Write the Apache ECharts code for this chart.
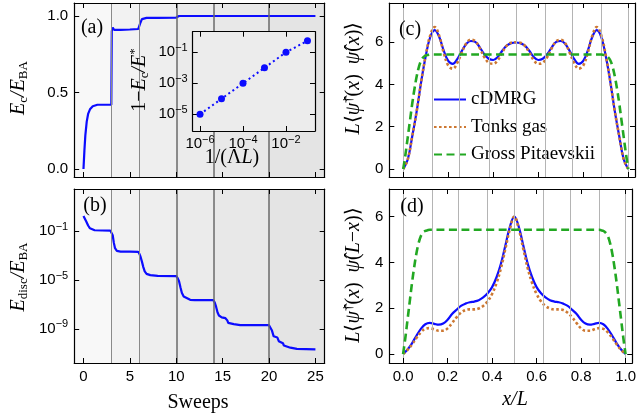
<!DOCTYPE html>
<html>
<head>
<meta charset="utf-8">
<script src="https://cdn.jsdelivr.net/npm/echarts@6/dist/echarts.min.js"></script>
<style>
html, body { margin: 0; padding: 0; background: #fff; }
#chart { width: 639px; height: 419px; }
</style>
</head>
<body>
<div id="chart"></div>
<script>
// (a) converged energy vs sweeps
var sweepsA = [0, 0.1, 0.2, 0.35, 0.5, 0.7, 1.0, 1.5, 2, 3, 3.05, 3.15, 3.3, 3.5, 4, 5, 5.9, 6.1, 6.3, 6.5, 6.8, 8, 10, 10.3, 12, 15, 20, 25];
var ecA = [0, 0.12, 0.22, 0.31, 0.36, 0.39, 0.41, 0.42, 0.42, 0.42, 0.9, 0.925, 0.91, 0.908, 0.91, 0.912, 0.915, 0.95, 0.98, 0.99, 0.988, 0.988, 0.99, 1.0, 1.0, 1.0, 1.0, 1.0];

// (b) discarded energy, log10 of E_disc/E_BA
var sweepsB = [0, 0.15, 0.3, 0.5, 0.7, 0.9, 1.2, 2, 2.9, 3.05, 3.15, 3.27, 3.4, 3.6, 4, 5, 5.9,
  6.05, 6.15, 6.3, 6.45, 6.6, 6.8, 7.2, 8, 10, 10.15, 10.3, 10.45, 10.6, 10.8, 11, 11.5, 12, 14,
  14.15, 14.3, 14.45, 14.6, 14.9, 15.3, 15.5, 15.6, 15.75, 16.2, 16.9, 18, 20,
  20.15, 20.3, 20.5, 20.6, 20.9, 21.05, 21.15, 21.5, 21.6, 21.8, 22.3, 23, 25];
var log10Edisc = [0.22, 0.1, -0.22, -0.55, -0.78, -0.88, -0.94, -0.96, -0.97, -1.1, -1.35, -1.95, -2.4, -2.62, -2.68, -2.69, -2.7,
  -2.9, -3.1, -3.5, -3.95, -4.3, -4.5, -4.6, -4.66, -4.68, -4.85, -5.1, -5.6, -6.05, -6.35, -6.5, -6.62, -6.64, -6.65,
  -6.85, -7.2, -7.65, -7.9, -8.05, -8.12, -8.3, -8.5, -8.58, -8.6, -8.68, -8.68, -8.69,
  -8.85, -9.1, -9.6, -9.66, -9.7, -10.0, -10.12, -10.17, -10.35, -10.45, -10.53, -10.63, -10.66];

// sweeps where the bond dimension is increased
var sweepMarks = [3, 6, 10, 14, 20];
var bandEdges = [-1, 3, 6, 10, 14, 20, 26];

// inset: 1 - Ec/E* vs 1/(Lambda L)
var invLambdaL = [1e-6, 1e-5, 1e-4, 1e-3, 1e-2, 1e-1];
var oneMinusE = [1e-5, 1e-4, 1e-3, 1e-2, 1e-1, 0.56];

// (c),(d) profiles on x/L
var xL = [0, 0.02, 0.04, 0.06, 0.08, 0.1, 0.12, 0.14, 0.16, 0.18, 0.2, 0.22, 0.24, 0.26, 0.28, 0.3, 0.32, 0.34, 0.36, 0.38, 0.4, 0.42, 0.44, 0.46, 0.48, 0.5,
  0.52, 0.54, 0.56, 0.58, 0.6, 0.62, 0.64, 0.66, 0.68, 0.7, 0.72, 0.74, 0.76, 0.78, 0.8, 0.82, 0.84, 0.86, 0.88, 0.9, 0.92, 0.94, 0.96, 0.98, 1];
var dmrgC = [0, 0.45, 1.55, 2.75, 4.15, 5.35, 6.25, 6.58, 6.25, 5.6, 5.12, 4.98, 5.2, 5.58, 5.92, 6.06, 6.02, 5.76, 5.44, 5.22, 5.16, 5.3, 5.6, 5.84, 5.96, 5.99,
  5.96, 5.84, 5.6, 5.3, 5.16, 5.22, 5.44, 5.76, 6.02, 6.06, 5.92, 5.58, 5.2, 4.98, 5.12, 5.6, 6.25, 6.58, 6.25, 5.35, 4.15, 2.75, 1.55, 0.45, 0];
var tonksC = [0, 0.45, 1.55, 2.75, 4.15, 5.38, 6.33, 6.72, 6.3, 5.5, 4.9, 4.75, 5.02, 5.5, 5.95, 6.12, 6.05, 5.72, 5.3, 5.03, 4.98, 5.15, 5.52, 5.84, 5.98, 6.0,
  5.98, 5.84, 5.52, 5.15, 4.98, 5.03, 5.3, 5.72, 6.05, 6.12, 5.95, 5.5, 5.02, 4.75, 4.9, 5.5, 6.3, 6.72, 6.33, 5.38, 4.15, 2.75, 1.55, 0.45, 0];
var dmrgD = [0, 0.2, 0.47, 0.8, 1.1, 1.3, 1.36, 1.32, 1.28, 1.33, 1.5, 1.75, 1.93, 2.1, 2.2, 2.26, 2.29, 2.35, 2.47, 2.65, 2.92, 3.35, 3.95, 4.75, 5.55, 6.0,
  5.55, 4.75, 3.95, 3.35, 2.92, 2.65, 2.47, 2.35, 2.29, 2.26, 2.2, 2.1, 1.93, 1.75, 1.5, 1.33, 1.28, 1.32, 1.36, 1.3, 1.1, 0.8, 0.47, 0.2, 0];
var tonksD = [0, 0.18, 0.42, 0.7, 0.95, 1.1, 1.13, 1.08, 1.02, 1.02, 1.12, 1.35, 1.6, 1.8, 1.92, 1.95, 1.95, 1.99, 2.1, 2.3, 2.62, 3.1, 3.75, 4.6, 5.45, 6.0,
  5.45, 4.6, 3.75, 3.1, 2.62, 2.3, 2.1, 1.99, 1.95, 1.95, 1.92, 1.8, 1.6, 1.35, 1.12, 1.02, 1.02, 1.08, 1.13, 1.1, 0.95, 0.7, 0.42, 0.18, 0];
var gpX = [0, 0.01, 0.02, 0.03, 0.04, 0.05, 0.06, 0.07, 0.08, 0.09, 0.1, 0.11, 0.12, 0.5, 0.88, 0.89, 0.9, 0.91, 0.92, 0.93, 0.94, 0.95, 0.96, 0.97, 0.98, 0.99, 1];
var gpY = [0, 0.7, 1.5, 2.3, 3.1, 3.8, 4.4, 4.85, 5.15, 5.3, 5.37, 5.4, 5.42, 5.42, 5.42, 5.4, 5.37, 5.3, 5.15, 4.85, 4.4, 3.8, 3.1, 2.3, 1.5, 0.7, 0];
var eighths = [0, 0.125, 0.25, 0.375, 0.5, 0.625, 0.75, 0.875, 1];

var BLUE = '#0c0cff', ORANGE = '#cd7832', GREEN = '#22a822';
var SANS = 'Liberation Sans', SERIF = 'Liberation Serif';
var bandColors = ['#f8f8f8', '#f2f2f2', '#eeeeee', '#ebebeb', '#e8e8e8', '#e4e4e4'];

function pairs(xs, ys) {
	return xs.map(function (x, i) { return [x, ys[i]]; });
}

var powRich = {
	b: { fontFamily: SANS, fontSize: 15, color: '#000' },
	s: { fontFamily: SANS, fontSize: 11, color: '#000', padding: [0, 0, 9, 0] }
};
function fmtPow(v) { return '{b|10}{s|' + (v < 0 ? '\u2212' : '') + Math.abs(v) + '}'; }
function fmt1(v) { return v.toFixed(1); }
function fmt0(v) { return String(Math.round(v)); }

// one axis with inward ticks; labels only when fmt is given
function axis(gi, pos, min, max, ticks, fmt, z, margin) {
	return {
		type: 'value', gridIndex: gi, position: pos, min: min, max: max, z: z,
		axisLine: { show: true, onZero: false, lineStyle: { color: '#000', width: 1.2 } },
		splitLine: { show: false },
		axisTick: { show: true, inside: true, length: 5, customValues: ticks, lineStyle: { color: '#000', width: 1 } },
		axisLabel: {
			show: !!fmt, customValues: ticks, formatter: fmt, margin: margin || 6,
			color: '#000', fontFamily: SANS, fontSize: 15, rich: powRich
		}
	};
}

var sweepTicks = [0, 5, 10, 15, 20, 25];
var xTicks = [0, 0.2, 0.4, 0.6, 0.8, 1.0];
var xAxes = [
	axis(0, 'bottom', -1, 26, sweepTicks, null, 10), axis(0, 'top', -1, 26, sweepTicks, null, 10),
	axis(1, 'bottom', -1, 26, sweepTicks, fmt0, 10), axis(1, 'top', -1, 26, sweepTicks, null, 10),
	axis(2, 'bottom', -0.062, 1.03, xTicks, null, 10), axis(2, 'top', -0.062, 1.03, xTicks, null, 10),
	axis(3, 'bottom', -0.062, 1.03, xTicks, fmt1, 10), axis(3, 'top', -0.062, 1.03, xTicks, null, 10),
	axis(4, 'bottom', -6.34, -0.65, [-6, -4, -2], fmtPow, 12, 3), axis(4, 'top', -6.34, -0.65, [-6, -4, -2], null, 12)
];
var yAxes = [
	axis(0, 'left', -0.052, 1.085, [0, 0.5, 1], fmt1, 10), axis(0, 'right', -0.052, 1.085, [0, 0.5, 1], null, 10),
	axis(1, 'left', -11.78, 2.43, [-1, -5, -9], fmtPow, 10), axis(1, 'right', -11.78, 2.43, [-1, -5, -9], null, 10),
	axis(2, 'left', -0.38, 7.86, [0, 2, 4, 6], fmt0, 10), axis(2, 'right', -0.38, 7.86, [0, 2, 4, 6], null, 10),
	axis(3, 'left', -0.39, 7.2, [0, 2, 4, 6], fmt0, 10), axis(3, 'right', -0.39, 7.2, [0, 2, 4, 6], null, 10),
	axis(4, 'left', -6.08, 0.33, [-5, -3, -1], fmtPow, 12, 5), axis(4, 'right', -6.08, 0.33, [-5, -3, -1], null, 12)
];

// shaded sweep bands and separators for panels (a),(b)
function sweepBackground(gi) {
	var areas = [];
	for (var i = 0; i < bandColors.length; i++) {
		areas.push([{ xAxis: bandEdges[i], itemStyle: { color: bandColors[i] } }, { xAxis: bandEdges[i + 1] }]);
	}
	return {
		type: 'line', xAxisIndex: 2 * gi, yAxisIndex: 2 * gi, data: [], z: 1, silent: true,
		markArea: { silent: true, data: areas },
		markLine: {
			silent: true, symbol: 'none', label: { show: false },
			data: sweepMarks.map(function (v) {
				return { xAxis: v, lineStyle: { type: 'solid', color: v < 10 ? '#8a8a8a' : '#6a6a6a', width: v < 10 ? 1 : 1.5 } };
			})
		}
	};
}
function eighthLines(gi) {
	return {
		type: 'line', xAxisIndex: 2 * gi, yAxisIndex: 2 * gi, data: [], z: 1, silent: true,
		markLine: {
			silent: true, symbol: 'none', label: { show: false },
			lineStyle: { type: 'solid', color: '#b4b4b4', width: 1 },
			data: eighths.map(function (v) { return { xAxis: v }; })
		}
	};
}
function profile(gi, name, xs, ys, color, dash, z) {
	return {
		type: 'line', name: name, xAxisIndex: 2 * gi, yAxisIndex: 2 * gi, z: z,
		data: pairs(xs, ys), showSymbol: false, symbol: 'none', smooth: 0.4,
		lineStyle: { color: color, width: dash === 'solid' ? 2.2 : 2.6, type: dash, cap: 'butt' },
		itemStyle: { color: color }
	};
}

var series = [
	sweepBackground(0),
	sweepBackground(1),
	eighthLines(2),
	eighthLines(3),
	{
		type: 'line', xAxisIndex: 0, yAxisIndex: 0, z: 3, data: pairs(sweepsA, ecA), showSymbol: false, symbol: 'none',
		lineStyle: { color: BLUE, width: 2.2 }
	},
	{
		type: 'line', xAxisIndex: 2, yAxisIndex: 2, z: 3, data: pairs(sweepsB, log10Edisc), showSymbol: false, symbol: 'none',
		lineStyle: { color: BLUE, width: 2.2 }
	},
	profile(2, 'cDMRG', xL, dmrgC, BLUE, 'solid', 3),
	profile(2, 'Tonks gas', xL, tonksC, ORANGE, [2.6, 2.4], 4),
	profile(2, 'Gross Pitaevskii', gpX, gpY, GREEN, [8, 4.5], 5),
	profile(3, 'cDMRG', xL, dmrgD, BLUE, 'solid', 3),
	profile(3, 'Tonks gas', xL, tonksD, ORANGE, [2.6, 2.4], 4),
	profile(3, 'Gross Pitaevskii', gpX, gpY, GREEN, [8, 4.5], 5),
	{
		type: 'line', xAxisIndex: 8, yAxisIndex: 8, z: 13,
		data: invLambdaL.map(function (x, i) { return [Math.log10(x), Math.log10(oneMinusE[i])]; }),
		symbol: 'circle', symbolSize: 7, showSymbol: true,
		itemStyle: { color: BLUE }, lineStyle: { color: BLUE, width: 2, type: [2, 3] }
	}
];

var tRich = {
	i: { fontFamily: SERIF, fontStyle: 'italic', fontSize: 20, color: '#000' },
	r: { fontFamily: SERIF, fontSize: 20, color: '#000' },
	sub: { fontFamily: SERIF, fontSize: 13, color: '#000', padding: [10, 0, 0, 0] },
	sup: { fontFamily: SERIF, fontSize: 13, color: '#000', padding: [0, 0, 10, 0] }
};
function label(x, y, text, rot) {
	return {
		type: 'text', x: x, y: y, rotation: rot ? Math.PI / 2 : 0, z: 20,
		style: { text: text, rich: tRich, align: 'center', verticalAlign: 'middle', font: '20px ' + SERIF, fill: '#000' }
	};
}
var psi = '\u03c8\u0302';

var option = {
	animation: false,
	backgroundColor: '#fff',
	grid: [
		{ left: 74.2, top: 3, width: 250.5, height: 174 },
		{ left: 74.2, top: 189, width: 250.5, height: 174 },
		{ left: 389.3, top: 3, width: 245.7, height: 174 },
		{ left: 389.3, top: 189, width: 245.7, height: 174 },
		{ left: 192.7, top: 31.7, width: 122.3, height: 99.3, show: true, backgroundColor: '#ececec', borderWidth: 0, z: 11 }
	],
	xAxis: xAxes,
	yAxis: yAxes,
	legend: {
		left: 428, top: 85, orient: 'vertical', itemWidth: 32, itemHeight: 14, itemGap: 8.5,
		data: ['cDMRG', 'Tonks gas', 'Gross Pitaevskii'],
		itemStyle: { opacity: 0 },
		textStyle: { fontFamily: SERIF, fontSize: 19, color: '#000' }
	},
	graphic: [
		label(92, 28, '{r|(a)}'),
		label(95, 206, '{r|(b)}'),
		label(410, 30, '{r|(c)}'),
		label(412, 207, '{r|(d)}'),
		label(19, 88, '{i|E}{sub|c}{i|/}{i|E}{sub|BA}', true),
		label(19, 277, '{i|E}{sub|disc}{i|/}{i|E}{sub|BA}', true),
		label(354, 78, '{i|L}{r|\u27e8}{i|' + psi + '}{sup|\u2020}{r|(}{i|x}{r|)  }{i|' + psi + '}{r|(}{i|x}{r|)\u27e9}', true),
		label(354, 275, '{i|L}{r|\u27e8}{i|' + psi + '}{sup|\u2020}{r|(}{i|x}{r|)  }{i|' + psi + '}{r|(}{i|L}{r|\u2212}{i|x}{r|)\u27e9}', true),
		label(140, 80, '{r|1\u2212}{i|E}{sub|c}{i|/}{i|E}{sup|*}', true),
		label(232, 158, '{r|1/(\u039b}{i|L}{r|)}'),
		label(198, 403, '{r|Sweeps}'),
		label(515, 400, '{i|x}{i|/}{i|L}')
	],
	series: series
};

var chart = echarts.init(document.getElementById('chart'));
chart.setOption(option);
</script>
</body>
</html>
